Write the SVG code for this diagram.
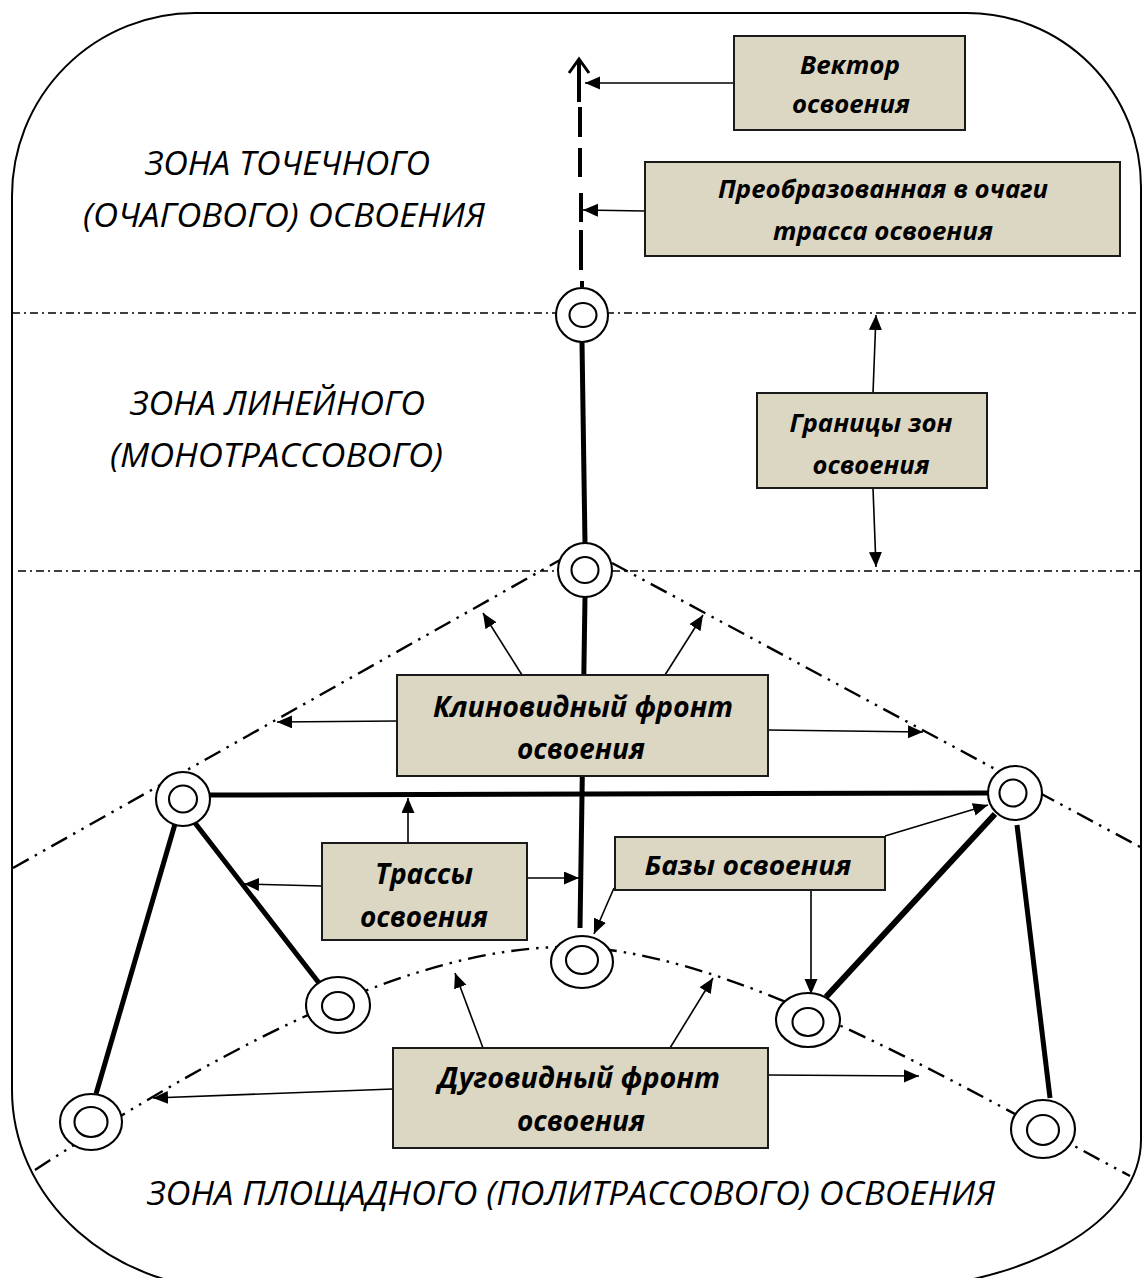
<svg xmlns="http://www.w3.org/2000/svg" width="1142" height="1278" viewBox="0 0 1142 1278">
<style>
.frame{fill:none;stroke:#000;stroke-width:2}
.zone{fill:none;stroke:#000;stroke-width:1.6;stroke-dasharray:8 4 2 4}
.front{fill:none;stroke:#000;stroke-width:2.4;stroke-dasharray:18 7 2.5 7 2.5 7}
.thick{stroke:#000;stroke-width:5;stroke-linecap:butt;fill:none}
.dash{stroke:#000;stroke-width:4;fill:none}
.arr{stroke:#000;stroke-width:1.6;fill:none;marker-end:url(#ah)}
.box{fill:#dcd7c3;stroke:#1a1a1a;stroke-width:2}
.ring{fill:#fff;stroke:#000;stroke-width:2.1}
.bt{font-family:"Open Sans","Noto Sans","DejaVu Sans",sans-serif;font-style:italic;font-weight:bold;fill:#000;text-anchor:middle}
.zt{font-family:"Open Sans","Noto Sans","DejaVu Sans",sans-serif;font-style:italic;font-weight:normal;fill:#000;font-size:32px}
</style>
<defs>
<marker id="ah" markerUnits="userSpaceOnUse" markerWidth="16" markerHeight="14" refX="15" refY="6.5" orient="auto">
<path d="M0,0 L15,6.5 L0,13 Z" fill="#000"/>
</marker>
</defs>
<rect width="1142" height="1278" fill="#fff"/>
<path class="frame" d="M195,13 H967 A174,174 0 0 1 1141,187 V1140 A268,150 0 0 1 873,1290 H237 A225,200 0 0 1 12,1090 V196 A183,183 0 0 1 195,13 Z"/>

<g id="zone-lines">
<line class="zone" x1="12" y1="313" x2="1142" y2="313"/>
<line class="zone" x1="18" y1="571" x2="1142" y2="571"/>
<path class="front" d="M13,868 L560,560"/>
<path class="front" d="M612,563 L1142,848"/>
<path class="front" d="M35,1170 C250,1030 420,950 560,947 C720,944 950,1080 1130,1176"/>
</g>

<g id="zone-labels">
<text class="zt" x="145" y="175" textLength="285" lengthAdjust="spacingAndGlyphs">ЗОНА ТОЧЕЧНОГО</text>
<text class="zt" x="83" y="227" textLength="402" lengthAdjust="spacingAndGlyphs">(ОЧАГОВОГО) ОСВОЕНИЯ</text>
<text class="zt" x="130" y="415" textLength="295" lengthAdjust="spacingAndGlyphs">ЗОНА ЛИНЕЙНОГО</text>
<text class="zt" x="110" y="467" textLength="333" lengthAdjust="spacingAndGlyphs">(МОНОТРАССОВОГО)</text>
<text class="zt" x="147" y="1205" textLength="848" lengthAdjust="spacingAndGlyphs">ЗОНА ПЛОЩАДНОГО (ПОЛИТРАССОВОГО) ОСВОЕНИЯ</text>
</g>

<g id="connectors">
<line class="dash" x1="579" y1="60" x2="579" y2="102"/>
<polyline points="569,73 579,59 589,73" fill="none" stroke="#000" stroke-width="3"/>
<line class="dash" x1="580" y1="107" x2="580" y2="137"/>
<line class="dash" x1="580" y1="148" x2="580" y2="177"/>
<line class="dash" x1="581" y1="193" x2="581" y2="222"/>
<line class="dash" x1="581" y1="230" x2="581" y2="270"/>
<line class="dash" x1="582" y1="281" x2="582" y2="287"/>
<line class="thick" x1="582" y1="342" x2="585" y2="544"/>
<line class="thick" x1="585" y1="597" x2="580" y2="928"/>
<line class="thick" x1="210" y1="795" x2="988" y2="793"/>
<line class="thick" x1="175" y1="824" x2="96" y2="1094"/>
<line class="thick" x1="195" y1="823" x2="319" y2="983"/>
<line class="thick" x1="995" y1="814" x2="826" y2="997" style="stroke-width:6"/>
<line class="thick" x1="1017" y1="825" x2="1050" y2="1098"/>
<line class="arr" x1="735" y1="83" x2="585" y2="83"/>
<line class="arr" x1="645" y1="211" x2="583" y2="210"/>
<line class="arr" x1="873" y1="393" x2="876" y2="315"/>
<line class="arr" x1="873" y1="488" x2="876" y2="567"/>
<line class="arr" x1="522" y1="675" x2="483" y2="613"/>
<line class="arr" x1="665" y1="675" x2="703" y2="615"/>
<line class="arr" x1="397" y1="721" x2="277" y2="722"/>
<line class="arr" x1="768" y1="730" x2="923" y2="732"/>
<line class="arr" x1="408" y1="843" x2="408" y2="798"/>
<line class="arr" x1="322" y1="886" x2="244" y2="884"/>
<line class="arr" x1="527" y1="878" x2="579" y2="878"/>
<line class="arr" x1="614" y1="888" x2="594" y2="934"/>
<line class="arr" x1="885" y1="836" x2="988" y2="805"/>
<line class="arr" x1="811" y1="890" x2="811" y2="994"/>
<line class="arr" x1="483" y1="1048" x2="455" y2="973"/>
<line class="arr" x1="670" y1="1048" x2="713" y2="978"/>
<line class="arr" x1="393" y1="1089" x2="153" y2="1098"/>
<line class="arr" x1="768" y1="1075" x2="919" y2="1076"/>
</g>

<g id="base-top"><ellipse class="ring" cx="582" cy="315" rx="26" ry="27"/><ellipse class="ring" cx="583" cy="315" rx="13.5" ry="12"/></g>
<g id="base-mid"><circle class="ring" cx="585" cy="570" r="27"/><ellipse class="ring" cx="585" cy="570" rx="13.5" ry="13"/></g>
<g id="base-left"><circle class="ring" cx="183" cy="799" r="27"/><ellipse class="ring" cx="183" cy="799" rx="14" ry="13.5"/></g>
<g id="base-right"><circle class="ring" cx="1015" cy="793" r="27"/><ellipse class="ring" cx="1013" cy="793" rx="13.5" ry="13.5"/></g>
<g id="base-bottom-center"><ellipse class="ring" cx="582" cy="962" rx="31" ry="26"/><ellipse class="ring" cx="582" cy="960" rx="16" ry="14"/></g>
<g id="base-inner-left"><ellipse class="ring" cx="338" cy="1005" rx="32" ry="28"/><ellipse class="ring" cx="338" cy="1006" rx="16" ry="14"/></g>
<g id="base-inner-right"><ellipse class="ring" cx="808" cy="1020" rx="32" ry="27"/><ellipse class="ring" cx="808" cy="1022" rx="15.5" ry="14"/></g>
<g id="base-far-left"><ellipse class="ring" cx="91" cy="1122" rx="31" ry="28"/><ellipse class="ring" cx="91" cy="1122" rx="16.5" ry="15"/></g>
<g id="base-far-right"><ellipse class="ring" cx="1043" cy="1129" rx="32" ry="29"/><ellipse class="ring" cx="1043" cy="1130" rx="16" ry="15"/></g>

<g id="box-vector">
<rect class="box" x="734" y="36" width="231" height="94"/>
<text class="bt" x="850" y="74" font-size="25" textLength="100" lengthAdjust="spacingAndGlyphs">Вектор</text>
<text class="bt" x="851" y="113" font-size="25" textLength="118" lengthAdjust="spacingAndGlyphs">освоения</text>
</g>
<g id="box-transformed">
<rect class="box" x="645" y="162" width="475" height="94"/>
<text class="bt" x="883" y="198" font-size="25" textLength="330" lengthAdjust="spacingAndGlyphs">Преобразованная в очаги</text>
<text class="bt" x="883" y="240" font-size="25" textLength="220" lengthAdjust="spacingAndGlyphs">трасса освоения</text>
</g>
<g id="box-borders">
<rect class="box" x="757" y="393" width="230" height="95"/>
<text class="bt" x="871" y="432" font-size="25" textLength="163" lengthAdjust="spacingAndGlyphs">Границы зон</text>
<text class="bt" x="871" y="474" font-size="25" textLength="117" lengthAdjust="spacingAndGlyphs">освоения</text>
</g>
<g id="box-wedge">
<rect class="box" x="397" y="675" width="371" height="101"/>
<text class="bt" x="583" y="717" font-size="28" textLength="300" lengthAdjust="spacingAndGlyphs">Клиновидный фронт</text>
<text class="bt" x="581" y="759" font-size="28" textLength="128" lengthAdjust="spacingAndGlyphs">освоения</text>
</g>
<g id="box-routes">
<rect class="box" x="322" y="843" width="205" height="97"/>
<text class="bt" x="424" y="884" font-size="28" textLength="98" lengthAdjust="spacingAndGlyphs">Трассы</text>
<text class="bt" x="424" y="927" font-size="28" textLength="128" lengthAdjust="spacingAndGlyphs">освоения</text>
</g>
<g id="box-bases">
<rect class="box" x="615" y="837" width="270" height="53"/>
<text class="bt" x="748" y="875" font-size="27" textLength="207" lengthAdjust="spacingAndGlyphs">Базы освоения</text>
</g>
<g id="box-arc">
<rect class="box" x="393" y="1048" width="375" height="100"/>
<text class="bt" x="579" y="1088" font-size="28" textLength="282" lengthAdjust="spacingAndGlyphs">Дуговидный фронт</text>
<text class="bt" x="581" y="1131" font-size="28" textLength="128" lengthAdjust="spacingAndGlyphs">освоения</text>
</g>
</svg>
